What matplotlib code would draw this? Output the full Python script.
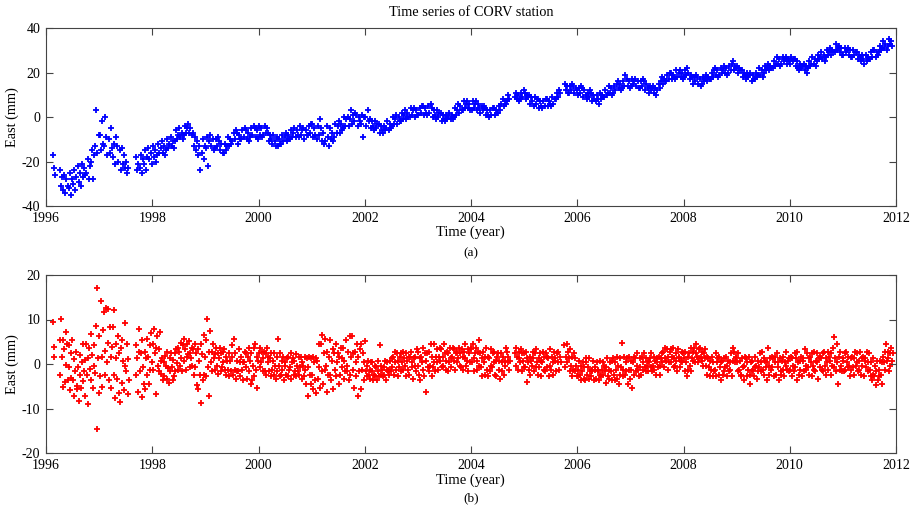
import numpy as np
import matplotlib
matplotlib.use("Agg")
import matplotlib.pyplot as plt

plt.rcParams['font.family'] = ['Liberation Serif', 'DejaVu Serif']
plt.rcParams['font.size'] = 10
plt.rcParams['axes.unicode_minus'] = False

# East component (mm), roughly weekly readings per year (48 per year); None = no data
a1996 = [None]*6 + [-17, -23, -26] + [None]*3 + [-24, -31, -27, -33, -26, -34, -28, -31, -32, -25, -35, -28, -30, -24, -33, -27, -22, -29, -25, -31, -21, -27, -23, -26, -25, -19, -28, -22, -20, -15, -28, -17, -13, 3, -16, -8]
a1997 = [-8, -15, -2, -12, -13, 0, -9, -17, -10, -16, -5, -14, -18, -12, -21, -9, -13, -20, -15, -24, -14, -21, -17, -23, -20, -25, -23] + [None]*6 + [-18, -24, -21, -23, -17, -25, -19, -21, -15, -24, -18, -14, -19, -16, -21]
a1998 = [-13, -18, -15, -20, -17, -12, -16, -14, -11, -16, -13, -17, -15, -10, -14, -12, -9, -13, -11, -14, -11, -6, -10, -8, -5, -9, -7, -10, -8, -4, -7, -5, -3, -7, -5, -8, -7, -13, -9, -15, -11, -17, -13, -24, -16, -10, -19, -13]
a1999 = [-14, -9, -22, -11, -8, -13, -10, -15, -14, -10, -13, -9, -11, -15, -12, -16, -16, -12, -15, -13, -9, -13, -10, -12, -11, -7, -10, -6, -7, -12, -8, -10, -10, -6, -9, -5, -6, -10, -7, -11, -9, -5, -8, -4, -5, -9, -6, -10]
a2000 = [-4, -8, -5, -9, -8, -4, -7, -5, -7, -11, -8, -10, -12, -8, -11, -13, -9, -13, -10, -12, -12, -8, -11, -9, -7, -11, -8, -10, -10, -6, -9, -7, -5, -9, -6, -8, -9, -4, -8, -6, -5, -10, -6, -8, -8, -4, -7, -3]
a2001 = [-3, -9, -5, -8, -10, -4, -8, -1, -5, -11, -7, -12, -11, -4, -9, -13, -5, -10, -7, -11, -9, -3, -7, -4, -2, -7, -3, -6, -5, 0, -4, -1, 0, -4, -1, 3, -3, 1, -2, 2, 1, -4, 0, -2, -3, 1, -9, 0]
a2002 = [0, -4, 3, -2, -1, -5, -2, -4, -6, -2, -5, -3, -3, -7, -4, -6, -7, -4, -6, -5, -2, -6, -3, -5, -4, 0, -3, -1, 1, -3, 0, -2, -2, 2, -1, 1, 3, -1, 2, 0, 0, 4, 1, 3, 4, 0, 3, 1]
a2003 = [1, 4, 2, 5, 5, 1, 4, 2, 1, 5, 2, 6, 4, 0, 3, 1, -1, 3, 0, 2, 2, -2, 1, -1, -2, 1, -1, 0, 2, -1, 1, -1, 0, 4, 1, 3, 6, 2, 5, 3, 3, 7, 4, 6, 7, 4, 6, 3]
a2004 = [3, 7, 4, 6, 7, 3, 6, 4, 2, 5, 3, 5, 4, 1, 3, 1, 0, 3, 1, 4, 4, 1, 3, 2, 2, 5, 3, 6, 8, 5, 7, 6, 7, 10, 8] + [None]*4 + [9, 11, 8, 10, 7, 8, 11, 9, 12]
a2005 = [11, 8, 10, 9, 10, 6, 9, 7, 5, 9, 6, 8, 8, 4, 7, 5, 4, 7, 5, 8, 8, 5, 7, 6, 5, 9, 6, 8, 8, 11, 9, 12, 11] + [None]*3 + [15, 12, 14, 11, 11, 14, 12, 15, 14, 11, 13, 12]
a2006 = [10, 13, 11, 14, 13, 9, 12, 10, 8, 11, 9, 12, 11, 7, 10, 8, 7, 10, 8, 6, 11, 8, 10, 9, 9, 12, 10, 11, 14, 11, 13, 10, 11, 14, 12, 15, 16, 13, 15, 12, 13, 16, 14, 19, 17, 14, 16, 13]
a2007 = [14, 17, 15, 16, 17, 14, 16, 13, 13, 16, 14, 17, 16, 12, 15, 13, 11, 14, 12, 13, 14, 11, 13, 10, 12, 15, 13, 16, 18, 15, 17, 16, 16, 19, 17, 20, 20, 17, 19, 18, 17, 21, 18, 20, 21, 18, 20, 17]
a2008 = [18, 21, 19, 22, 20, 17, 19, 18, 15, 18, 16, 19, 18, 15, 17, 14, 15, 18, 16, 17, 19, 16, 18, 17, 17, 20, 18, 21, 22, 19, 21, 18, 19, 22, 20, 21, 23, 20, 22, 19, 20, 23, 21, 24, 25, 21, 23, 22]
a2009 = [23, 20, 22, 21, 21, 18, 20, 19, 17, 20, 18, 19, 20, 16, 19, 17, 17, 20, 18, 19, 22, 19, 21, 18, 20, 23, 21, 22, 24, 21, 23, 22, 22, 25, 23, 24, 27, 24, 26, 23, 24, 27, 25, 26, 27, 24, 26, 25]
a2010 = [24, 27, 25, 26, 26, 23, 25, 22, 21, 24, 22, 23, 24, 21, 23, 20, 22, 25, 23, 24, 27, 24, 26, 23, 25, 28, 26, 27, 29, 26, 28, 25, 27, 30, 28, 29, 31, 28, 30, 29, 29, 33, 30, 31, 32, 29, 31, 28]
a2011 = [28, 31, 29, 30, 31, 28, 30, 27, 27, 30, 28, 29, 29, 26, 28, 27, 25, 28, 26, 24, 28, 25, 27, 26, 26, 29, 27, 30, 30, 27, 29, 28, 29, 32, 30, 31, 34, 31, 33, 30, 32, 35, 33, 34, 32] + [None]*3

# residual East component (mm), 72 readings per year
b1996 = [None]*9 + [9.5, 3.8, 1.6] + [None]*6 + [5.3, -2.4, 10.1, 1.5, -5.2, 5.5, 3.4, -4.1, 7.2, -0.3, 4.6, -3.5, -0.6, 4.3, -5.9, 2.5, -3.2, 5.5, -3.6, 1.1, -7.2, -1.5, 2.6, -4.9, -5.7, -0.6, -8.4, 2.1, -2.5, -5.3, 0.4, -3.9, 4.5, -1.6, -7.3, 0.9, 4.6, -2.5, 1.4, -8.9, 3.5, -1.2, 6.7, -3.6, 2.1, -5.5, 4.3, -0.4, -2.1, 8.6, -14.5, 17.1, 1.3, -6.6]
b1997 = [6.4, -2.6, 14.1, 1.5, -5.2, 7.6, 11.7, 2.9, -2.4, 12.6, 0.5, 4.7, 12.4, -3.7, 8.3, 1.6, -5.5, 3.9, 8.4, -2.5, 12.1, -7.7, 1.3, 4.6, -3.4, 6.2, -6.6, 2.5, -8.6, 3.5, 5.4, -4.3, 0.6, -5.8, 9.2, -0.5, -1.6, 4.4, -6.7, 1.2, -3.5] + [None]*8 + [4.3, -2.5, 1.4, -6.2, 2.6, 7.8, -1.6, 2.4, -7.5, 5.3, -0.6, -4.4, 2.7, -5.6, 1.3, 5.7, -2.5, 1.6, -4.6, 4.2, -1.4, 6.9, 0.4]
b1998 = [4.6, -1.3, 7.9, 2.4, -6.8, 3.5, 6.2, -0.4, 3.3, -1.6, 7.1, 0.6, -2.3, 1.4, -3.6, 0.5, -2.6, 1.7, -0.4, -3.3, 2.6, -0.9, -4.2, 1.3, -1.5, 2.4, -0.6, -3.6, 0.8, -2.7, 2.5, -1.6, 3.4, 0.3, 3.6, -1.4, 2.6, -0.5, 4.7, 1.4, -1.5, 4.3, 5.6, 0.7, 3.4, -1.3, 4.5, 1.6, 2.3, 5.2, -0.6, 2.5, 1.4, 3.6, -0.4, 3.3, -2.4, 4.6, -0.6, 2.4, -4.7, 3.4, -5.6, 0.6, -2.5, 4.6, -8.8, 2.3, -3.6, 6.6, -2.4, 1.5]
b1999 = [5.4, -2.6, 10.2, -0.6, 2.6, -7.3, 7.4, 0.5, 2.6, -1.6, 4.6, 1.4, 2.3, -1.4, 3.6, -0.4, 2.5, -2.3, 1.4, 3.6, -1.5, 2.4, -0.6, 2.7, 0.4, 3.4, -1.4, 1.6, -2.5, 0.6, -1.3, 2.5, -2.6, 0.6, -1.6, 4.3, 1.5, -2.4, 5.6, -1.4, 2.5, -3.4, -1.6, 0.6, -1.5, 3.4, -2.6, 0.5, 1.6, -1.4, 0.5, -3.6, 0.4, 2.6, -0.6, 2.4, -3.3, 1.5, -1.6, 3.6, 0.6, -4.6, 2.4, -3.6, -0.5, 3.5, -2.6, 4.4, -1.4, 1.6, -5.3, 0.6]
b2000 = [2.4, -0.6, 3.5, 0.5, 2.6, -1.6, 1.4, 2.6, -1.5, 2.4, -2.5, 3.6, 0.4, 1.6, -1.5, 1.4, -2.6, 2.5, -1.4, 0.6, -2.4, 2.5, -0.5, -3.4, 1.5, -1.6, 5.6, -0.5, 2.4, -2.6, -2.4, 0.6, -1.4, 1.6, -3.5, 0.4, -0.4, -2.5, 1.4, -2.6, 1.6, -1.4, -0.6, 2.4, -3.4, 0.5, 1.4, -2.4, 0.6, -1.5, 2.3, -2.6, -0.5, -1.5, -2.4, 1.5, -0.6, 1.6, -3.4, 0.4, -0.5, -2.6, 1.6, -1.4, -4.6, 1.4, -0.6, -7.2, 1.6, -2.5, -4.6, 1.4]
b2001 = [-2.4, 1.6, -5.6, 0.4, -3.5, 1.4, -6.6, 0.6, -3.4, 4.6, -0.6, -5.4, 4.4, -1.5, 6.6, -4.6, 2.4, -1.4, 5.6, -0.5, -6.3, 2.6, -2.5, 1.6, -2.4, 5.3, -3.6, 0.6, 3.4, -5.6, 2.5, -1.4, 4.6, -2.6, 0.5, 2.4, -4.6, 1.5, -2.4, 3.6, -0.6, 1.4, 3.6, -3.4, 0.6, -1.5, 5.4, -1.6, -0.4, 2.6, -3.5, 6.3, -2.5, 1.5, 6.2, -1.4, 2.5, -5.4, 2.6, 0.4, -2.6, 4.5, -7.2, 1.5, -1.6, 3.4, -5.6, 4.6, -1.4, 2.5, -3.6, 0.5]
b2002 = [5.1, -1.6, -0.5, -2.6, 0.6, -2.4, -1.4, -3.3, 0.4, -1.6, 0.5, -3.6, -2.4, -0.4, -2.6, -0.6, -3.5, 0.6, -1.5, -2.6, 4.3, -2.4, -0.5, -1.4, -2.6, -0.6, -2.4, 0.6, -3.6, -1.4, 0.5, -1.6, -1.4, -2.5, 0.6, -1.6, 1.4, -0.6, 1.6, -2.4, 0.5, 2.6, -1.4, 2.4, -2.6, 0.6, -0.6, 1.6, 2.4, -1.6, 0.4, 2.6, -1.4, 1.4, -0.4, 2.5, -2.6, 0.6, -1.4, 1.6, -2.4, 1.5, 2.6, -0.6, 0.4, -3.4, 1.4, -0.5, 1.6, -1.6, 3.4, -0.4]
b2003 = [2.6, -2.4, 1.4, -3.6, 1.6, 0.4, -1.4, 3.6, -2.6, 2.4, -6.2, 0.6, 2.4, -0.6, 2.6, -1.6, -0.4, 4.4, -2.6, 1.5, -0.6, 4.6, 0.5, -1.5, 1.6, 0.5, 3.4, -1.4, 1.5, 3.6, 0.6, 3.4, -0.6, 1.6, -0.4, 4.6, 2.4, -1.4, 0.6, 2.6, -1.6, 2.4, 0.4, 3.5, 1.4, -0.6, 1.6, 3.6, 3.4, 0.6, -1.4, 2.4, 0.5, 2.6, 1.4, 3.6, -0.4, 2.5, -0.6, 3.4, 1.6, -1.4, 2.6, 1.4, 4.6, -0.4, 0.6, 3.4, -1.6, 2.4, 0.4, 3.6]
b2004 = [3.4, 0.5, 4.6, 1.4, -1.6, 2.4, 3.6, 0.6, -1.4, 2.6, 5.5, -0.4, 2.4, -0.6, 1.4, -2.6, 2.6, 0.4, -2.4, 1.5, 3.6, -1.4, 1.6, -2.6, 1.4, -1.6, 3.4, -0.5, -0.6, 2.4, 0.5, 2.6, -2.4, 0.6, -2.6, 1.6, 2.4, -1.4, 0.6, -3.4, 2.5, 0.4, -1.5, 1.6, -2.4, 0.6, -0.4, 3.6, 2.6, 0.4, 1.6, -1.4, 0.6] + [None]*6 + [2.4, 3.6, -0.4, 1.6, -1.4, 2.6, 1.4, 0.4, 3.4, -1.6, 2.4, 0.6, -0.6]
b2005 = [2.4, -0.6, 2.6, -4.1, 1.4, 0.4, -1.4, 1.6, -2.4, 0.6, -0.4, 2.6, 1.4, -1.6, 2.4, -0.6, 3.4, 0.5, -2.4, 1.4, -0.6, 2.4, -2.6, 0.6, 0.4, 2.6, -1.4, 1.6, -1.6, 2.4, 1.6, -0.6, 1.4, -2.6, -0.4, 3.4, -1.4, 1.6, 0.5, -2.4, 2.6, 1.4, 0.6, -1.6, 2.4, 0.4, 2.6, -1.4, 1.6, 0.4] + [None]*4 + [4.3, -0.6, 1.6, 4.6, 0.4, 2.6, 1.4, -1.6, 3.4, -0.4, -2.6, 1.6, -1.4, 2.4, -1.6, 1.4, -0.4, -2.6]
b2006 = [-1.4, -2.6, 0.6, -2.4, -0.4, -3.6, -1.6, 0.4, -3.4, -0.6, -3.6, 1.4, 0.4, -2.4, -0.6, -3.4, 1.4, -1.6, -2.6, -1.4, -1.6, 0.6, -3.6, -1.4, -0.6, -3.4, 0.4, -1.6, -1.4, -3.6, -2.4, 0.6, -2.6, -1.4, 0.5, -2.4, -0.4, -1.6, -4.3, -0.6, 1.4, -2.6, -1.4, -3.4, 0.4, -1.6, -3.6, 0.6, 1.4, -2.4, -3.6, 0.4, -1.4, 1.6, -3.4, -0.4, -4.6, 1.4, -2.4, -0.6, 4.7, -1.4, -2.6, 1.6, -2.4, 0.4, -1.6, 1.4, -4.6, -1.4, 1.6, -3.4]
b2007 = [-1.4, 0.6, -5.5, 0.4, -2.4, 1.6, 1.4, -1.6, -0.4, 2.4, -1.4, -2.6, -0.6, 1.4, -2.4, 1.6, 0.4, -1.4, 2.4, -0.6, 1.4, -1.6, -0.4, 0.6, -1.6, 0.4, 1.4, -0.6, 2.4, -1.6, -0.4, 1.6, -1.4, 0.6, -2.4, 0.4, 1.4, -0.6, 1.6, -0.4, -2.4, 1.4, 2.4, 0.4, 2.6, -0.6, 1.4, 3.6, 0.6, 3.4, -1.4, 1.6, 0.4, 2.6, 3.4, 0.4, 1.6, 3.6, -0.6, 1.4, -0.4, 2.4, 0.6, -1.5, 3.4, 1.4, 1.6, -0.6, 0.6, 2.6, 0.4, 2.4]
b2008 = [1.4, -1.6, 2.6, 0.4, -2.6, 1.6, -1.4, 2.4, -0.4, 3.6, -1.6, 1.4, 2.6, 0.6, 3.6, 0.4, 2.4, 4.5, 1.6, 0.4, 3.4, 1.4, 3.6, 1.6, 0.6, 2.6, -0.5, 2.4, 1.4, 3.4, -0.4, 1.6, -2.4, 1.4, -0.6, -2.6, 0.6, -1.4, 1.6, -2.6, 0.4, -1.6, -1.4, 2.4, -2.6, 0.4, 1.4, -2.4, 1.6, -0.6, 0.4, -3.5, 0.6, -2.4, -1.6, 1.4, -0.6, 1.6, -2.6, -0.4, 0.6, -1.6, 0.4, -1.4, 2.4, -2.6, 3.5, 0.6, 2.6, 0.4, 1.6, 1.4]
b2009 = [0.4, -1.6, 2.4, -1.4, 0.6, -2.6, -2.4, 1.4, -0.6, -3.6, -0.4, 1.6, 1.4, -2.6, 0.4, -1.4, 1.6, -2.4, -4.5, 0.4, -1.6, 0.6, -1.4, -2.6, 1.6, -0.6, -0.4, -3.4, 0.6, -1.6, -0.6, 2.4, -1.6, 0.4, 2.6, -1.4, 1.4, -2.4, 0.6, -0.6, -3.6, 0.4, 3.5, -0.4, -2.4, 1.4, -1.4, 1.6, -0.6, 1.4, -2.6, 0.4, 1.6, -2.4, 2.4, -0.6, 0.4, -3.6, 1.4, -1.6, -2.4, 0.6, -1.4, 1.6, -2.6, 0.4, -0.4, 2.6, -1.4, 0.6, -1.6, 1.4]
b2010 = [-1.4, 1.6, -2.6, 1.4, -0.4, -1.6, 2.4, -0.6, 1.4, -3.5, 2.6, 0.4, -2.4, 0.6, -1.4, 1.6, -2.6, 1.4, 0.6, -1.6, 3.4, -0.4, -1.4, 2.4, -0.6, 1.4, -2.4, 1.6, 0.4, -2.6, 2.4, -0.4, -1.4, 2.6, -1.6, 0.6, 0.4, 2.4, -3.4, 1.4, -0.6, 1.6, 1.4, -1.4, 2.4, -1.6, 2.6, -0.4, -2.4, 1.4, 0.4, 2.6, -1.4, 1.6, 0.6, -2.4, 2.4, -0.4, 3.6, -0.6, 6.1, 1.4, -1.6, 4.6, 0.4, -4.5, 1.6, -1.4, 2.6, -0.4, -1.6, 0.6]
b2011 = [1.4, -1.6, 2.4, -1.4, 2.6, 0.4, -0.6, 1.6, -0.4, -2.6, 1.4, -1.4, 1.6, -0.6, 1.4, -2.4, 2.6, -0.4, 0.4, 2.4, -1.6, 0.6, -1.4, 2.6, -2.4, 1.4, -0.4, 1.6, -2.6, 0.6, 1.4, -0.6, 2.6, 0.4, -1.6, 2.4, -1.4, -2.6, 0.4, -3.6, -2.4, 1.4, -2.6, -0.4, -4.8, -1.6, 0.6, -3.6, -1.4, -2.6, 0.6, -2.4, -4.5, 0.4, 1.6, 0.4, 2.6, -1.4, 4.5, 0.6, 2.6, 1.4, -1.6, 2.4, -0.4, 3.6, 0.6, 2.4] + [None]*4

years = list(range(1996, 2012))
east_raw = [a1996, a1997, a1998, a1999, a2000, a2001, a2002, a2003,
            a2004, a2005, a2006, a2007, a2008, a2009, a2010, a2011]
resid_raw = [b1996, b1997, b1998, b1999, b2000, b2001, b2002, b2003,
             b2004, b2005, b2006, b2007, b2008, b2009, b2010, b2011]


def to_series(per_year):
    # evenly spaced sampling epochs inside each year
    t, v = [], []
    for yr, vals in zip(years, per_year):
        n = len(vals)
        t.extend(yr + (np.arange(n) + 0.5) / n)
        v.extend(vals)
    return np.array(t), np.array(v, dtype=float)


t_a, east = to_series(east_raw)
t_b, resid = to_series(resid_raw)

W, H = 916, 507
fig = plt.figure(figsize=(W / 100, H / 100), dpi=100)
ax1 = fig.add_axes([46 / W, 1 - 206 / H, 850 / W, 178 / H])
ax2 = fig.add_axes([46 / W, 1 - 453 / H, 850 / W, 178 / H])

ax1.plot(t_a, east, '+', color='#0000ff', ms=3.8, mew=1.3)
ax2.plot(t_b, resid, '+', color='#ff0000', ms=3.8, mew=1.3)

for ax, lim, yt in [(ax1, (-40, 40), [-40, -20, 0, 20, 40]),
                    (ax2, (-20, 20), [-20, -10, 0, 10, 20])]:
    ax.set_xlim(1996, 2012)
    ax.set_ylim(*lim)
    ax.set_xticks(range(1996, 2013, 2))
    ax.set_yticks(yt)
    ax.tick_params(direction='in', top=True, right=True, length=5,
                   width=0.8, color='#444444', pad=4, labelsize=10)
    for s in ax.spines.values():
        s.set_color('#444444')
        s.set_linewidth(0.8)
    ax.set_ylabel('East (mm)', labelpad=2, fontsize=10.3)

fig.text(471 / W, 1 - 12 / H, 'Time series of CORV station', ha='center', va='center', fontsize=10.3)
fig.text(470 / W, 1 - 232 / H, 'Time (year)', ha='center', va='center', fontsize=10.5)
fig.text(471 / W, 1 - 253 / H, '(a)', ha='center', va='center', fontsize=9.5)
fig.text(470 / W, 1 - 480 / H, 'Time (year)', ha='center', va='center', fontsize=10.5)
fig.text(471 / W, 1 - 498 / H, '(b)', ha='center', va='center', fontsize=9.5)

fig.savefig('out.png', dpi=100)
